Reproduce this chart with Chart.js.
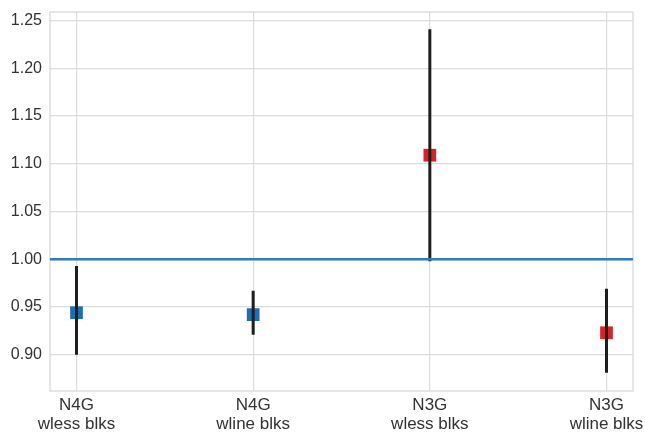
<!DOCTYPE html>
<html>
<head>
<meta charset="utf-8">
<script src="https://cdn.jsdelivr.net/npm/chart.js@4/dist/chart.umd.min.js"></script>
<style>
  html, body { margin: 0; padding: 0; background: #fff; }
  #wrap { width: 645px; height: 432px; }
</style>
</head>
<body>
<div id="wrap"><canvas id="chart"></canvas></div>
<script>
const categories = [["N4G", "wless blks"], ["N4G", "wline blks"], ["N3G", "wless blks"], ["N3G", "wline blks"]];
const means = [0.944, 0.942, 1.109, 0.923];
const lows = [0.900, 0.921, 0.998, 0.881];
const highs = [0.993, 0.967, 1.241, 0.969];
const markerColors = ['#1f6eb4', '#1f6eb4', '#d92128', '#d92128'];
const yTicks = [0.90, 0.95, 1.00, 1.05, 1.10, 1.15, 1.20, 1.25];
const refLine = 1.0;

const xMin = -0.15, xMax = categories.length - 1 + 0.15;

// error bars as one line dataset, broken by null points
const errData = [];
categories.forEach((c, i) => {
  errData.push({x: i, y: lows[i]}, {x: i, y: highs[i]}, {x: i, y: null});
});

const boxPlugin = {
  id: 'box',
  beforeDatasetsDraw(chart) {
    const {ctx, chartArea: a} = chart;
    ctx.save();
    ctx.strokeStyle = '#d6d6d6';
    ctx.lineWidth = 1.2;
    ctx.strokeRect(a.left, a.top, a.right - a.left, a.bottom - a.top);
    ctx.restore();
  }
};

new Chart(document.getElementById('chart'), {
  type: 'scatter',
  data: {
    datasets: [
      {
        type: 'line',
        data: [{x: xMin, y: refLine}, {x: xMax, y: refLine}],
        borderColor: '#2f7dbf',
        borderWidth: 2.5,
        pointRadius: 0
      },
      {
        type: 'line',
        data: errData,
        borderColor: '#1e1e1e',
        borderWidth: 3,
        pointRadius: 0,
        spanGaps: false
      },
      {
        data: means.map((v, i) => ({x: i, y: v})),
        pointStyle: 'rect',
        pointRadius: 9,
        pointBackgroundColor: markerColors,
        pointBorderColor: markerColors,
        pointBorderWidth: 0
      }
    ]
  },
  options: {
    responsive: true,
    maintainAspectRatio: false,
    animation: false,
    layout: { padding: { left: 0, right: 12, top: 12, bottom: 0 } },
    plugins: { legend: { display: false }, tooltip: { enabled: false } },
    scales: {
      x: {
        type: 'linear',
        min: xMin,
        max: xMax,
        afterBuildTicks: s => { s.ticks = categories.map((c, i) => ({value: i})); },
        afterFit: s => { s.height = 41; s.paddingLeft = 0; s.paddingRight = 0; },
        grid: { color: '#dcdcdc', lineWidth: 1.2, drawTicks: false },
        border: { display: false },
        ticks: {
          autoSkip: false,
          maxRotation: 0,
          padding: 5,
          color: '#333',
          font: { family: 'Liberation Sans, Arial, sans-serif', size: 17, lineHeight: 1.12 },
          callback: v => categories[v]
        }
      },
      y: {
        min: 0.862,
        max: 1.259,
        afterBuildTicks: s => { s.ticks = yTicks.map(v => ({value: v})); },
        afterFit: s => { s.width = 50; s.paddingTop = 0; s.paddingBottom = 0; },
        grid: { color: '#dcdcdc', lineWidth: 1.2, drawTicks: false },
        border: { display: false },
        ticks: {
          padding: 8,
          color: '#333',
          font: { family: 'Liberation Sans, Arial, sans-serif', size: 16 },
          callback: v => v.toFixed(2)
        }
      }
    }
  },
  plugins: [boxPlugin]
});
</script>
</body>
</html>
